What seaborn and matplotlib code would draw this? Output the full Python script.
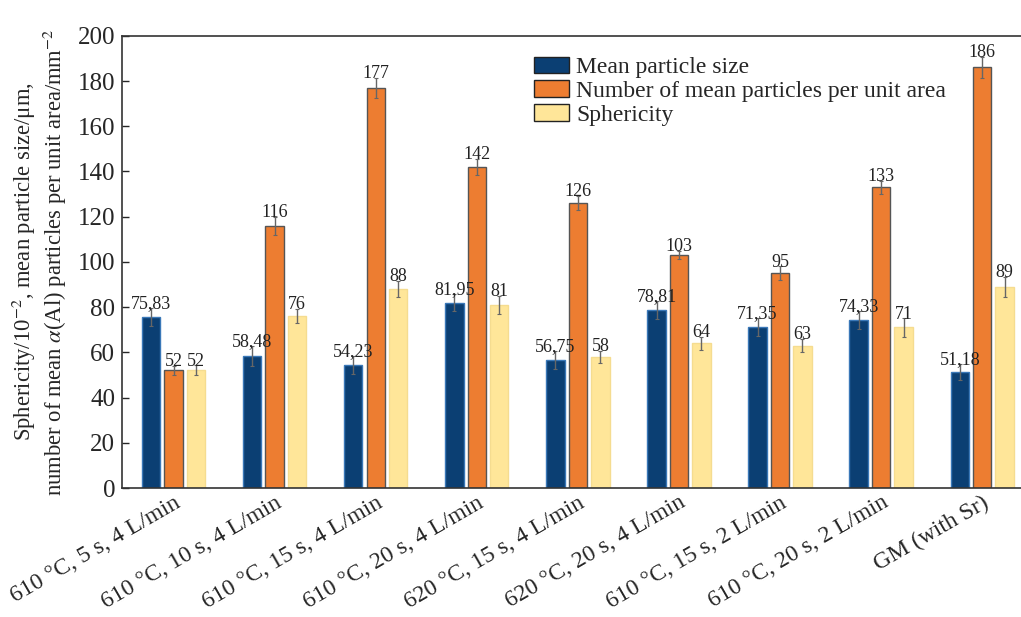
import matplotlib
matplotlib.use("Agg")
import matplotlib.pyplot as plt
import seaborn as sns
import pandas as pd
import numpy as np

categories = ["610 °C, 5 s, 4 L/min", "610 °C, 10 s, 4 L/min", "610 °C, 15 s, 4 L/min",
              "610 °C, 20 s, 4 L/min", "620 °C, 15 s, 4 L/min", "620 °C, 20 s, 4 L/min",
              "610 °C, 15 s, 2 L/min", "610 °C, 20 s, 2 L/min", "GM (with Sr)"]
series = ["Mean particle size", "Number of mean particles per unit area", "Sphericity"]
size_vals = [75.83, 58.48, 54.23, 81.95, 56.75, 78.81, 71.35, 74.33, 51.18]
number_vals = [52, 116, 177, 142, 126, 103, 95, 133, 186]
spher_vals = [52, 76, 88, 81, 58, 64, 63, 71, 89]
size_err = [4.0, 4.4, 4.0, 3.7, 4.0, 3.9, 4.0, 4.0, 3.5]
number_err = [2.0, 4.0, 4.3, 3.5, 3.0, 1.8, 3.0, 3.0, 4.8]
spher_err = [2.2, 3.0, 3.7, 4.0, 2.5, 3.0, 3.0, 4.0, 4.4]
size_lbl = ["75,83", "58,48", "54,23", "81,95", "56,75", "78,81", "71,35", "74,33", "51,18"]
number_lbl = [str(v) for v in number_vals]
spher_lbl = [str(v) for v in spher_vals]

colors = ["#0B3F73", "#ED7D31", "#FFE699"]
edges = ["#3A78B8", "#555555", "#F5DC90"]

sns.set_theme(style="white")
plt.rcParams["font.family"] = ["Liberation Serif", "DejaVu Serif"]
plt.rcParams["mathtext.fontset"] = "stix"

df = pd.DataFrame({
    "category": categories * 3,
    "series": [series[0]] * 9 + [series[1]] * 9 + [series[2]] * 9,
    "value": size_vals + number_vals + spher_vals,
})

fig = plt.figure(figsize=(10.21, 6.17), dpi=100)
ax = fig.add_axes([0.1195, 0.209, 0.891, 0.733])
sns.barplot(data=df, x="category", y="value", hue="series", hue_order=series,
            palette=colors, width=0.666, gap=0.18, errorbar=None, ax=ax,
            saturation=1, linewidth=1.0)

errs = [size_err, number_err, spher_err]
vals = [size_vals, number_vals, spher_vals]
lbls = [size_lbl, number_lbl, spher_lbl]
bar_conts = list(ax.containers)
for i, cont in enumerate(bar_conts):
    for j, p in enumerate(cont.patches):
        p.set_edgecolor(edges[i])
        x = p.get_x() + p.get_width() / 2
        v = vals[i][j]
        e = errs[i][j]
        ax.errorbar(x, v, yerr=e, fmt="none", ecolor="#666666", elinewidth=1.0,
                    capsize=1.5, capthick=0.8, zorder=5)
        ax.text(x, v + e - 1.8, lbls[i][j], ha="center", va="bottom", fontsize=13,
                color="#222222", zorder=6)

ax.set_xlim(-0.51, 8.49)
ax.set_ylim(0, 200)
ax.set_yticks(np.arange(0, 201, 20))
ax.tick_params(axis="y", direction="in", length=5, width=1, labelsize=18, left=True, pad=5)
ax.tick_params(axis="x", length=0, labelsize=17, pad=3)
plt.setp(ax.get_xticklabels(), rotation=30, ha="right", rotation_mode="anchor")
ax.set_xlabel("")
ax.set_ylabel("Sphericity/10$^{-2}$, mean particle size/μm,\nnumber of mean $\\alpha$(Al) particles per unit area/mm$^{-2}$",
              fontsize=16.3, linespacing=1.15, labelpad=6)
for s in ax.spines.values():
    s.set_color("#333333")
    s.set_linewidth(1.2)

handles, labels = ax.get_legend_handles_labels()
for h in handles:
    h.set_edgecolor("#222222")
ax.legend(handles, labels, loc="upper left", bbox_to_anchor=(0.442, 0.975), frameon=False,
          fontsize=17, handlelength=1.5, handleheight=0.7, handletextpad=0.3,
          labelspacing=0.1, borderaxespad=0)

fig.savefig("out.png", dpi=100)
